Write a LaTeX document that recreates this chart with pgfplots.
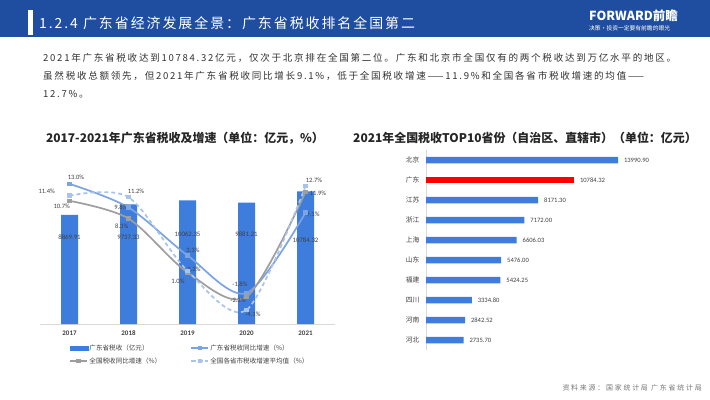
\documentclass[border=0pt]{standalone}
\usepackage{pgfplots}
\pgfplotsset{compat=1.18}
\usepackage{fontspec}
\setmainfont{Noto Sans CJK SC}
\newfontfamily\hdrfont[LetterSpace=14]{Noto Sans CJK SC}
\newfontfamily\parafont[LetterSpace=18]{Noto Sans CJK SC}
\newfontfamily\srcfont[LetterSpace=25]{Noto Sans CJK SC}
\newfontfamily\numfont{Carlito}
\newfontfamily\cjk{Noto Sans CJK SC}
\definecolor{band}{RGB}{31,78,160}
\definecolor{barblue}{RGB}{62,125,220}
\definecolor{lineblue}{RGB}{124,164,226}
\definecolor{linegray}{RGB}{158,158,158}
\definecolor{dashblue}{RGB}{168,196,236}
\definecolor{txt}{RGB}{50,50,50}
\definecolor{axisgray}{RGB}{217,217,217}
\definecolor{lbl}{RGB}{64,64,64}
\definecolor{srcgray}{RGB}{118,118,118}
\begin{document}
\begin{tikzpicture}[x=1bp,y=1bp]
\useasboundingbox (0,0) rectangle (710,399);
\fill[white] (0,0) rectangle (710,399);
% header
\fill[band] (0,362) rectangle (710,399);
\fill[white] (28,364) rectangle (33,389);
\node[anchor=west,inner sep=0,text=white,font=\hdrfont\fontsize{14}{16}\selectfont] at (39,376) {1.2.4 广东省经济发展全景：广东省税收排名全国第二};
\node[anchor=west,inner sep=0,text=white,font=\cjk\bfseries\fontsize{12.5}{14}\selectfont] at (589,383) {FORWARD前瞻};
\node[anchor=west,inner sep=0,text=white,font=\cjk\fontsize{5.8}{7}\selectfont] at (589,371) {决策·投资一定要有前瞻的眼光};
% paragraph
\begin{scope}[every node/.style={anchor=west,inner sep=0,text=txt,font=\parafont\fontsize{9.6}{11}\selectfont}]
\node at (43,341.5) {2021年广东省税收达到10784.32亿元，仅次于北京排在全国第二位。广东和北京市全国仅有的两个税收达到万亿水平的地区。};
\node at (43,323) {虽然税收总额领先，但2021年广东省税收同比增长9.1\%，低于全国税收增速——11.9\%和全国各省市税收增速的均值——};
\node at (43,304.5) {12.7\%。};
\end{scope}
% titles
\node[text=black!85,font=\cjk\bfseries\fontsize{12}{14}\selectfont] at (185,261) {2017-2021年广东省税收及增速（单位：亿元，\%）};
\node[text=black!85,font=\cjk\bfseries\fontsize{12}{14}\selectfont] at (525,261) {2021年全国税收TOP10省份（自治区、直辖市）（单位：亿元）};
% left chart: bars
\begin{axis}[at={(40bp,75bp)},anchor=south west,scale only axis,width=295bp,height=177bp,
  xmin=-0.5,xmax=4.5,ymin=0,ymax=14400,
  axis y line=none,axis x line*=bottom,x axis line style={draw=axisgray,line width=0.8bp},
  xtick={0,1,2,3,4},xticklabels={2017,2018,2019,2020,2021},major tick length=0pt,
  xticklabel style={font=\numfont\bfseries\fontsize{7}{8}\selectfont,text=lbl,yshift=-3bp},
  ybar,bar width=17bp,clip=false]
\addplot[fill=barblue,draw=none,bar shift=0pt] coordinates {(0,8869.91) (1,9737.33) (2,10062.35) (3,9881.21) (4,10784.32)};
\begin{scope}[every node/.style={font=\numfont\fontsize{6.8}{8}\selectfont,text=lbl,inner sep=0}]
\node at (axis cs:0,7053) {8869.91};
\node at (axis cs:1,7053) {9737.33};
\node at (axis cs:2,7322) {10062.35};
\node at (axis cs:3,7265) {9881.21};
\node at (axis cs:4,6834) {10784.32};
\end{scope}
\end{axis}
% left chart: lines
\begin{axis}[at={(40bp,75bp)},anchor=south west,scale only axis,width=295bp,height=177bp,
  xmin=-0.5,xmax=4.5,ymin=-6,ymax=18,hide axis,clip=false,
  legend style={at={(axis description cs:0,0)},anchor=north west,xshift=29bp,yshift=-19bp,
    draw=none,fill=none,inner sep=0pt,font=\cjk\fontsize{6.6}{7.5}\selectfont,text=lbl,
    /tikz/every even column/.append style={column sep=28bp},row sep=3.5bp,
    nodes={inner sep=1.2bp}},
  legend columns=2,legend cell align=left]
\addlegendimage{legend image code/.code={\fill[barblue] (0bp,-2bp) rectangle (18bp,2bp);}}
\addlegendentry{广东省税收（亿元）}
\addplot[lineblue,line width=1.7bp,smooth,mark=square*,mark size=1.4bp,mark options={fill=lineblue}] coordinates {(0,13.0) (1,9.8) (2,3.3) (3,-1.8) (4,9.1)};
\addlegendentry{广东省税收同比增速（\%）}
\addplot[linegray,line width=1.7bp,smooth,mark=square*,mark size=1.4bp,mark options={fill=linegray}] coordinates {(0,10.7) (1,8.3) (2,1.0) (3,-2.3) (4,11.9)};
\addlegendentry{全国税收同比增速（\%）}
\addplot[dashblue,line width=1.7bp,smooth,dash pattern=on 4bp off 3bp,mark=square*,mark size=1.4bp,mark options={solid,fill=dashblue}] coordinates {(0,11.4) (1,11.2) (2,1.2) (3,-4.1) (4,12.7)};
\addlegendentry{全国各省市税收增速平均值（\%）}
\begin{scope}[every node/.style={font=\numfont\fontsize{6.6}{8}\selectfont,text=lbl,inner sep=0}]
\node at (axis cs:0.110,13.89) {13.0\%};
\node at (axis cs:-0.386,11.94) {11.4\%};
\node at (axis cs:-0.132,10.0) {10.7\%};
\node at (axis cs:1.127,12.03) {11.2\%};
\node at (axis cs:0.873,9.82) {9.8\%};
\node at (axis cs:0.885,7.19) {8.3\%};
\node at (axis cs:2.093,3.94) {3.3\%};
\node at (axis cs:2.110,1.46) {1.2\%};
\node at (axis cs:1.839,-0.26) {1.0\%};
\node at (axis cs:2.89,-0.58) {-1.8\%};
\node at (axis cs:2.856,-2.84) {-2.3\%};
\node at (axis cs:3.110,-4.64) {-4.1\%};
\node at (axis cs:4.144,13.43) {12.7\%};
\node at (axis cs:4.212,11.76) {11.9\%};
\node at (axis cs:4.127,8.92) {9.1\%};
\end{scope}
\end{axis}
% right chart
\begin{axis}[at={(426bp,49bp)},anchor=south west,scale only axis,width=219.6bp,height=200bp,
  xmin=0,xmax=16000,ymin=-0.5,ymax=9.5,y dir=reverse,
  xbar,bar width=6.5bp,
  axis x line=none,axis y line*=left,y axis line style={draw=axisgray,line width=0.8bp},
  ytick={0,1,2,3,4,5,6,7,8,9},
  yticklabels={北京,广东,江苏,浙江,上海,山东,福建,四川,河南,河北},
  major tick length=0pt,
  yticklabel style={font=\cjk\fontsize{6.8}{8}\selectfont,text=lbl,xshift=-3bp},
  nodes near coords,point meta=explicit symbolic,
  nodes near coords style={anchor=west,font=\numfont\fontsize{6.6}{8}\selectfont,text=lbl,xshift=2.5bp},
  clip=false]
\addplot[fill=barblue,draw=none,bar shift=0pt] coordinates {
 (13990.90,0) [13990.90]
 (8171.30,2) [8171.30]
 (7172.00,3) [7172.00]
 (6606.03,4) [6606.03]
 (5476.00,5) [5476.00]
 (5424.25,6) [5424.25]
 (3334.80,7) [3334.80]
 (2842.52,8) [2842.52]
 (2735.70,9) [2735.70]};
\addplot[fill=red,draw=none,bar shift=0pt] coordinates {(10784.32,1) [10784.32]};
\end{axis}
% source
\node[anchor=east,inner sep=0,text=srcgray,font=\srcfont\fontsize{7}{8}\selectfont] at (702,11) {资料来源：国家统计局 广东省统计局};
\end{tikzpicture}
\end{document}
